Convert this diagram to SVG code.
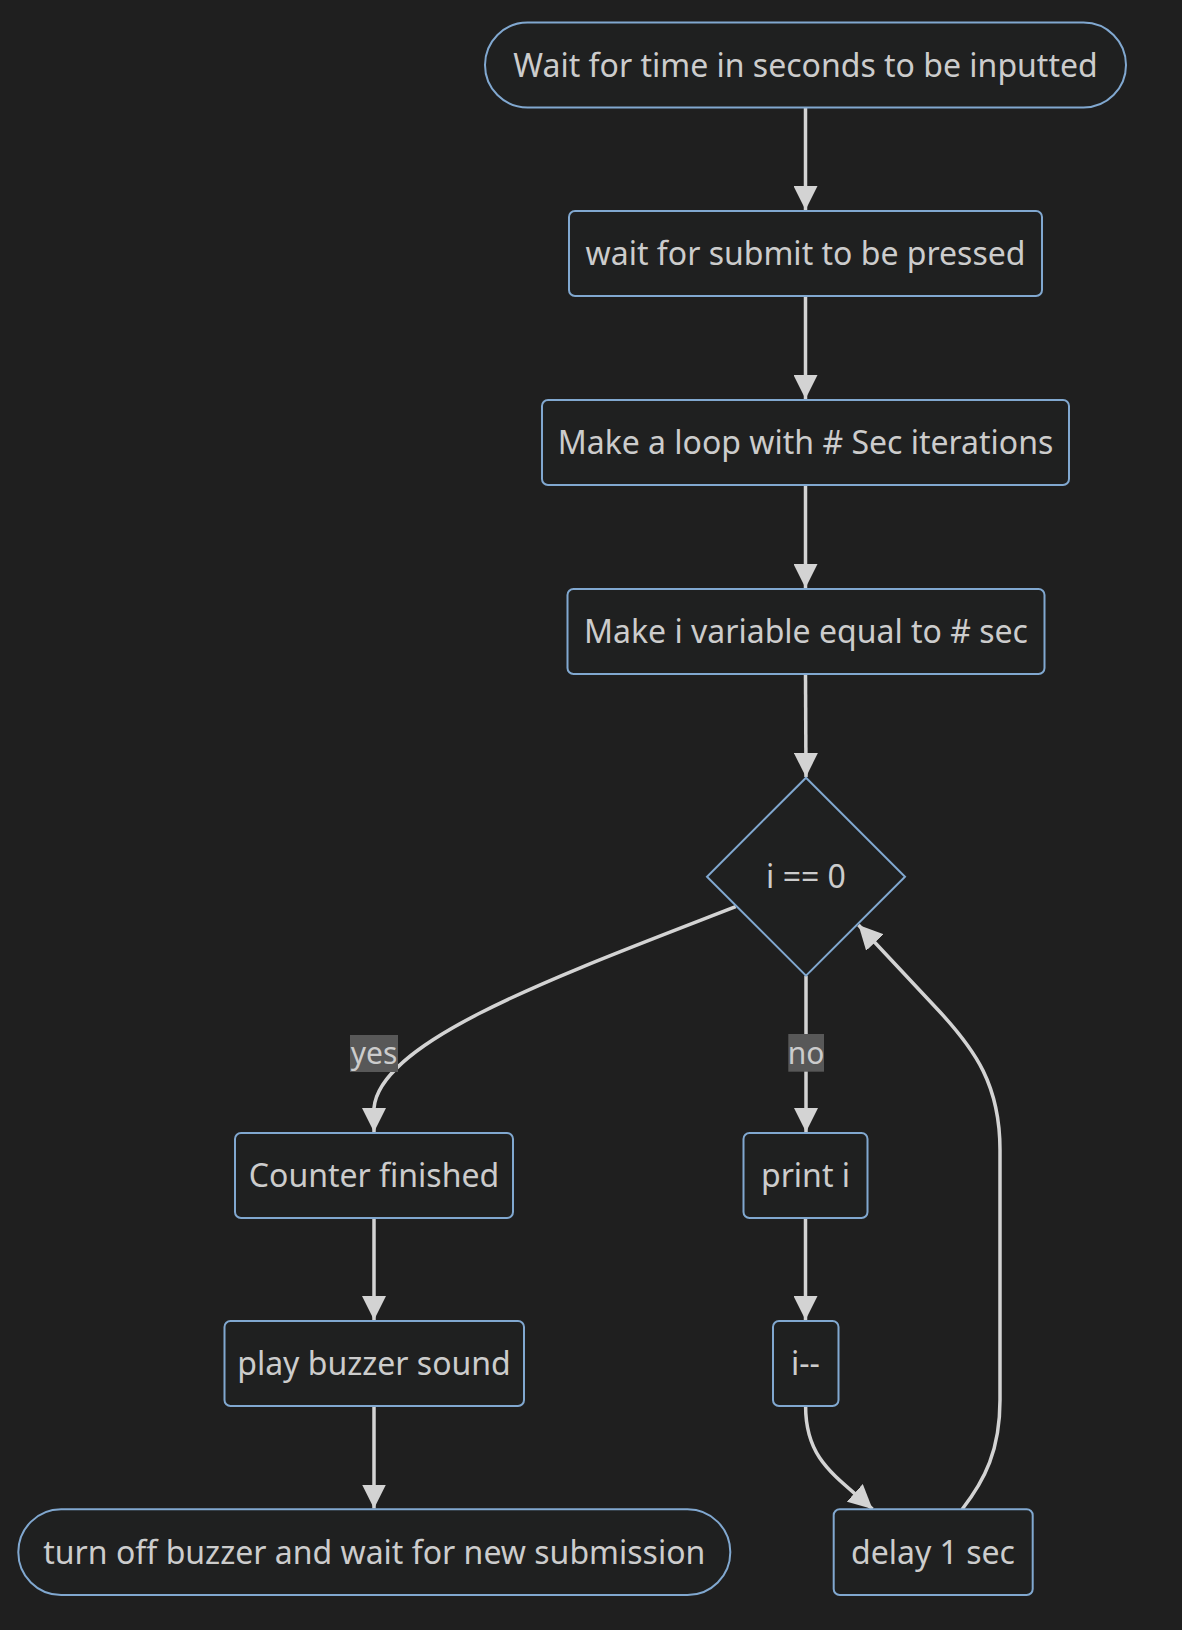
<svg xmlns="http://www.w3.org/2000/svg" width="1182" height="1630" viewBox="0 0 1182 1630">
<style>
.node rect, .node polygon { fill: #1f2020; stroke: #81a8d0; stroke-width: 2; }
.node text { fill: #cccccc; font-family: "Noto Sans", "DejaVu Sans", sans-serif; font-size: 32px; text-anchor: middle; }
.edge { fill: none; stroke: #d3d3d3; stroke-width: 3.5; }
.lbl rect { fill: #585858; }
.lbl text { fill: #cccccc; font-family: "Noto Sans", "DejaVu Sans", sans-serif; font-size: 30px; text-anchor: middle; }
</style>
<defs>
<marker id="arrow" viewBox="0 0 10 10" refX="10" refY="5" markerUnits="userSpaceOnUse" markerWidth="24" markerHeight="24" orient="auto">
<path d="M0,0 L10,5 L0,10 z" fill="#d3d3d3"/>
</marker>
</defs>
<rect x="0" y="0" width="1182" height="1630" fill="#1f1f1f"/>
<g id="connectors">
<path class="edge" d="M805.5,107.5 L805.5,210" marker-end="url(#arrow)"/>
<path class="edge" d="M805.5,296 L805.5,399" marker-end="url(#arrow)"/>
<path class="edge" d="M805.5,485 L805.5,588" marker-end="url(#arrow)"/>
<path class="edge" d="M805.5,674 L806,777" marker-end="url(#arrow)"/>
<path class="edge" d="M735.7,906.7 C560,975 380,1040 374,1108 L374,1132" marker-end="url(#arrow)"/>
<path class="edge" d="M806,975.7 L806,1132" marker-end="url(#arrow)"/>
<path class="edge" d="M374,1218 L374,1320" marker-end="url(#arrow)"/>
<path class="edge" d="M374,1406 L374,1508.5" marker-end="url(#arrow)"/>
<path class="edge" d="M805.5,1218 L805.5,1320" marker-end="url(#arrow)"/>
<path class="edge" d="M805.6,1406 C805.6,1460 835,1475 872.5,1509" marker-end="url(#arrow)"/>
<path class="edge" d="M962,1509.5 C985,1480 1000,1450 1000,1400 L1000,1150 C1000,1085 975,1050 940,1012 L858.5,925" marker-end="url(#arrow)"/>
<g class="lbl" id="label-yes">
<rect x="350" y="1035" width="48" height="37"/>
<text x="374" y="1064">yes</text>
</g>
<g class="lbl" id="label-no">
<rect x="788.3" y="1034" width="35.7" height="37.7"/>
<text x="806" y="1064">no</text>
</g>
</g>
<g id="n1" class="node">
<rect x="485" y="22.5" width="641" height="85" rx="42.5" ry="42.5"/>
<text x="805.5" y="76.5">Wait for time in seconds to be inputted</text>
</g>
<g id="n2" class="node">
<rect x="569" y="211" width="473" height="85" rx="6" ry="6"/>
<text x="805.5" y="265">wait for submit to be pressed</text>
</g>
<g id="n3" class="node">
<rect x="542" y="400" width="527" height="85" rx="6" ry="6"/>
<text x="805.5" y="454">Make a loop with # Sec iterations</text>
</g>
<g id="n4" class="node">
<rect x="567.5" y="589" width="477" height="85" rx="6" ry="6"/>
<text x="806" y="643">Make i variable equal to # sec</text>
</g>
<g id="n5" class="node">
<polygon points="806,777.7 905,876.7 806,975.7 707,876.7"/>
<text x="806" y="888">i == 0</text>
</g>
<g id="n6" class="node">
<rect x="235" y="1133" width="278" height="85" rx="6" ry="6"/>
<text x="374" y="1187">Counter finished</text>
</g>
<g id="n7" class="node">
<rect x="743.5" y="1133" width="124" height="85" rx="6" ry="6"/>
<text x="805.5" y="1187">print i</text>
</g>
<g id="n8" class="node">
<rect x="224.5" y="1321" width="299.5" height="85" rx="6" ry="6"/>
<text x="374" y="1375">play buzzer sound</text>
</g>
<g id="n9" class="node">
<rect x="773" y="1321" width="65.5" height="85" rx="6" ry="6"/>
<text x="805.5" y="1375">i--</text>
</g>
<g id="n10" class="node">
<rect x="18.3" y="1509.3" width="712" height="85.7" rx="42.8" ry="42.8"/>
<text x="374.3" y="1563.5">turn off buzzer and wait for new submission</text>
</g>
<g id="n11" class="node">
<rect x="833.7" y="1509.3" width="199" height="85.7" rx="6" ry="6"/>
<text x="933" y="1563.5">delay 1 sec</text>
</g>
</svg>
